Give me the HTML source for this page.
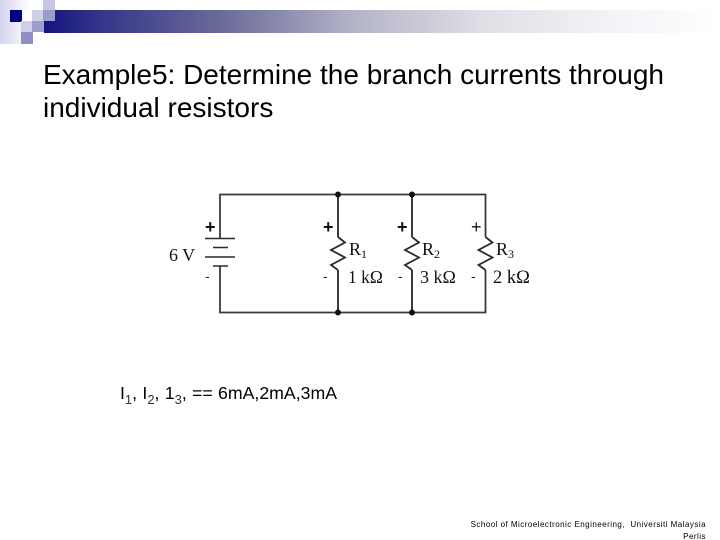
<!DOCTYPE html>
<html><head><meta charset="utf-8"><style>
html,body{margin:0;padding:0;background:#fff}
#p{position:relative;width:720px;height:540px;overflow:hidden;background:#fff;font-family:"Liberation Sans",sans-serif;color:#000}
#p div{position:absolute}
.t{font-size:28px;line-height:33px;white-space:nowrap;left:43px}
sub{font-size:13px;line-height:0;vertical-align:-5px;color:#333}
</style></head><body><div id="p">
<div style="left:0;top:0;width:30px;height:44px;background:linear-gradient(90deg,#d4d4ec,#fff)"></div>
<div style="left:44px;top:10px;width:676px;height:23px;background:linear-gradient(90deg,#14147f 0%,#34348a 8%,#6a6a98 26%,#b4b4c8 46%,#dfdfe6 65%,#f4f4f8 85%,#fff 100%)"></div>
<div style="left:10px;top:10px;width:12px;height:12px;background:#000080"></div>
<div style="left:22px;top:10px;width:10px;height:11px;background:#fff"></div>
<div style="left:43px;top:0;width:12px;height:10px;background:#c6c6e2"></div>
<div style="left:32px;top:10px;width:12px;height:11px;background:#cfcfe8"></div>
<div style="left:43px;top:10px;width:12px;height:11px;background:#9c9cce"></div>
<div style="left:21px;top:21px;width:11px;height:11px;background:#cfcfe8"></div>
<div style="left:32px;top:21px;width:12px;height:11px;background:#9c9cce"></div>
<div style="left:21px;top:32px;width:12px;height:12px;background:#8f8fc6"></div>

<div class="t" style="top:58px">Example5: Determine the branch currents through</div>
<div class="t" style="top:91px">individual resistors</div>

<svg style="position:absolute;left:0;top:0" width="720" height="540" viewBox="0 0 720 540">
<g fill="none" stroke="#2a2a2a" stroke-width="1.8">
<path d="M220 238V194.500H485.500V237M220 266V312.500H485.500V270" stroke="#3a3a3a"/>
<path d="M338 194.500V237M338 270V312.500M412 194.500V237M412 270V312.500" stroke="#3a3a3a" stroke-width="2"/>
<path d="M205 238.500H235M213 247.500H228M205 257H235M213 266H228" stroke-width="1.500"/>
<path d="M338 237l7 5.500-14 7.500 14 7.500-14 7.500 7 5"/>
<path d="M412 237l7 5.500-14 7.500 14 7.500-14 7.500 7 5"/>
<path d="M485.500 237l7 5.500-14 7.500 14 7.500-14 7.500 7 5"/>
</g>
<g fill="#111"><circle cx="338" cy="194.500" r="3"/><circle cx="412" cy="194.500" r="3"/><circle cx="338" cy="312.500" r="3"/><circle cx="412" cy="312.500" r="3"/></g>
<g font-family="Liberation Serif,serif" font-size="18" fill="#111">
<text x="169" y="261">6 V</text>
<text x="349" y="255">R<tspan font-size="12" dy="3">1</tspan></text>
<text x="422" y="255">R<tspan font-size="12" dy="3">2</tspan></text>
<text x="496" y="255">R<tspan font-size="12" dy="3">3</tspan></text>
<text x="348" y="283" font-size="17.500">1 kΩ</text>
<text x="420" y="283">3 kΩ</text>
<text x="493" y="283" font-size="18.500">2 kΩ</text>
</g>
<g font-family="Liberation Sans,sans-serif" font-size="18" font-weight="bold" fill="#111">
<text x="205" y="233">+</text>
<text x="323" y="233">+</text>
<text x="397" y="233">+</text>
<text x="471" y="233" font-weight="normal">+</text>
</g>
<g font-family="Liberation Sans,sans-serif" font-size="14" fill="#222">
<text x="205" y="281">-</text><text x="323" y="281">-</text><text x="398" y="281">-</text><text x="471" y="281">-</text>
</g>
</svg>

<div style="left:120px;top:383px;font-size:17.700px;line-height:20px;white-space:nowrap;word-spacing:.4px">I<sub>1</sub>, I<sub>2</sub>, 1<sub>3</sub>, == 6mA,2mA,3mA</div>
<div style="left:440px;width:266px;top:519px;font-size:8px;line-height:12px;text-align:right;letter-spacing:.47px">School of Microelectronic Engineering, &nbsp;Universiti Malaysia<br>Perlis</div>
</div></body></html>
